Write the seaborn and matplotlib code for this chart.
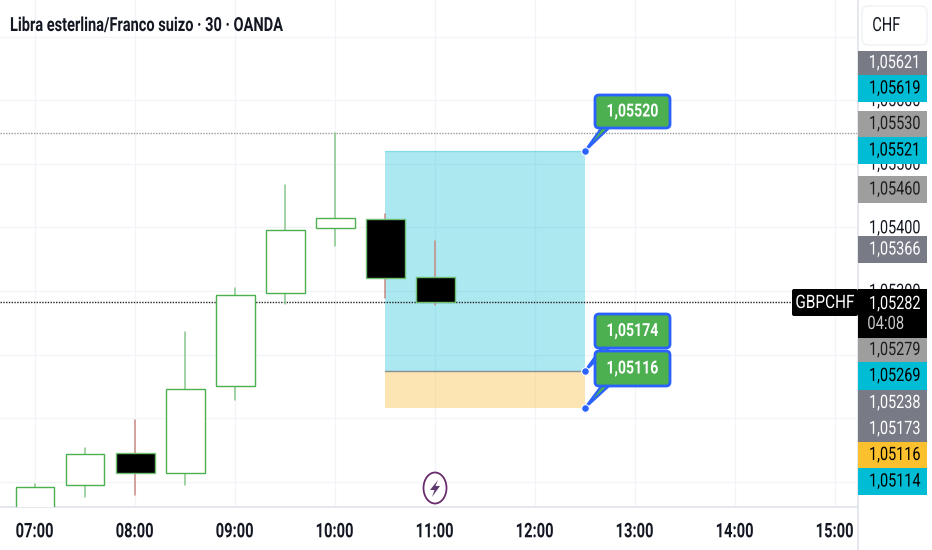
import pandas as pd
import seaborn as sns
import matplotlib
matplotlib.use('Agg')
import matplotlib.pyplot as plt
from matplotlib.patches import Ellipse, FancyBboxPatch, Polygon, Rectangle
from matplotlib.patheffects import AbstractPathEffect
from matplotlib.transforms import Affine2D

# candles, time in hours
times = [7.0, 7.5, 8.0, 8.5, 9.0, 9.5, 10.0, 10.5, 11.0]
opens = [1.04950, 1.04995, 1.05045, 1.05014, 1.05150, 1.05297, 1.05399, 1.05413, 1.05322]
closes = [1.04992, 1.05044, 1.05014, 1.05146, 1.05294, 1.05396, 1.05414, 1.05320, 1.05283]
highs = [1.04996, 1.05053, 1.05097, 1.05235, 1.05305, 1.05467, 1.05548, 1.05421, 1.05378]
lows = [1.04950, 1.04976, 1.04979, 1.04995, 1.05128, 1.05279, 1.05371, 1.05289, 1.05278]

hour_ticks = [7, 8, 9, 10, 11, 12, 13, 14, 15]
hour_labels = ['07:00', '08:00', '09:00', '10:00', '11:00', '12:00', '13:00', '14:00', '15:00']
price_ticks = [1.05000, 1.05100, 1.05200, 1.05300, 1.05400, 1.05500, 1.05600, 1.05700]
# the others sit fully behind the pills in the screenshot
visible_price_labels = [1.05300, 1.05400, 1.05500, 1.05600]

# position tool
zone_start, zone_end = 10.5, 12.5
target_price, entry_price, stop_price = 1.05520, 1.05174, 1.05116
last_price = 1.05282
session_high = 1.05548

# price scale pills: text, top px, bottom px, fill, text colour
pill_texts = ['1,05621', '1,05619', '1,05530', '1,05521', '1,05460', '1,05366',
              '1,05279', '1,05269', '1,05238', '1,05173', '1,05116', '1,05114']
pill_tops = [51, 75, 111, 137, 176, 236, 338, 362, 390, 416, 442, 468]
pill_bottoms = [75, 102, 137, 164, 203, 263, 362, 390, 416, 442, 468, 495]
pill_fills = ['#787B86', '#00BCD4', '#9E9E9E', '#00BCD4', '#9E9E9E', '#787B86',
              '#9E9E9E', '#00BCD4', '#787B86', '#787B86', '#FBC02D', '#00BCD4']
pill_inks = ['white', 'black', '#1c1c1c', 'black', '#1c1c1c', 'white',
             '#1c1c1c', 'black', 'white', 'white', 'black', 'black']

W, H = 932, 550
GRID = '#F3F4F9'
LINE = '#E0E3EB'
GREEN = '#4CAF50'
BLUE = '#2962FF'


class Squeeze(AbstractPathEffect):
    # the screenshot is squashed sideways, so the glyphs are narrowed around the text centre
    def __init__(self, sx, center=True):
        super().__init__()
        self.sx = sx
        self.center = center

    def draw_path(self, renderer, gc, tpath, affine, rgbFace=None):
        shift = 0
        if self.center:
            shift = affine.transform_path(tpath).get_extents().width * (1 - self.sx) / 2
        new = Affine2D().scale(self.sx, 1) + affine + Affine2D().translate(shift, 0)
        renderer.draw_path(gc, tpath, new, rgbFace)


def price_text(p):
    return ('%.5f' % p).replace('.', ',')


sns.set_theme(style='white')
plt.rcParams['font.family'] = ['Roboto', 'DejaVu Sans']

fig = plt.figure(figsize=(W / 100, H / 100), dpi=100, facecolor='white')
ax = fig.add_axes([0, 43 / H, 858 / W, 507 / H])
ax.set_xlim(6.65, 15.23)
ax.set_ylim(1.054 - 279.7 / 63600, 1.054 + 227.3 / 63600)
ax.set_axisbelow(True)
ax.grid(True, color=GRID, lw=0.9)

wicks = pd.DataFrame({
    'time': times + times,
    'price': highs + lows,
    'candle': list(range(len(times))) * 2,
    'kind': ['up' if c >= o else 'down' for o, c in zip(opens, closes)] * 2,
})
sns.lineplot(data=wicks, x='time', y='price', units='candle', estimator=None, hue='kind',
             palette={'up': '#86C78B', 'down': '#C98A84'}, lw=1.1, legend=False, ax=ax, zorder=3)

ax.fill_between([zone_start, zone_end], entry_price, target_price, color='#00BCD4', alpha=0.33, lw=0, zorder=1)
ax.fill_between([zone_start, zone_end], stop_price, entry_price, color='#FAC348', alpha=0.42, lw=0, zorder=1)
ax.plot([zone_start, zone_end], [entry_price, entry_price], color='#8A8F94', lw=1, zorder=2)
ax.plot([zone_start, zone_end], [target_price, target_price], color='#00BCD4', alpha=0.25, lw=1, zorder=2)

for t, o, c in zip(times, opens, closes):
    ax.bar(t, abs(c - o), bottom=min(o, c), width=0.39, color='white' if c >= o else 'black',
           edgecolor=GREEN if c >= o else '#6FBF73', lw=1.0, zorder=4)

ax.axhline(session_high, color='#9A9A9A', lw=1, ls=(0, (1, 1)), zorder=2)
ax.axhline(last_price, color='#222222', lw=1, ls=(0, (1, 1)), zorder=2)

ax.set_xticks(hour_ticks, hour_labels)
ax.set_yticks(price_ticks, [''] * len(price_ticks))
ax.tick_params(axis='x', length=0, pad=11, labelsize=14.5, labelcolor='#131722')
ax.tick_params(axis='y', length=0)
for tick_label in ax.get_xticklabels():
    tick_label.set_fontweight('bold')
    tick_label.set_path_effects([Squeeze(0.73)])
ax.set_xlabel('')
ax.set_ylabel('')
for side in ['top', 'left']:
    ax.spines[side].set_visible(False)
for side in ['right', 'bottom']:
    ax.spines[side].set_color(LINE)
    ax.spines[side].set_linewidth(1.2)

# overlay in pixel coordinates for the screen furniture
ov = fig.add_axes([0, 0, 1, 1], facecolor='none')
ov.set_xlim(0, W)
ov.set_ylim(H, 0)
ov.axis('off')

fig.canvas.draw()


def to_px(x, price):
    px = ax.transData.transform((x, price))
    return px[0], H - px[1]


def label(x, y, txt, size, color, sx=0.78, weight='normal', zorder=3):
    t = ov.text(x, y, txt, fontsize=size, color=color, fontweight=weight, ha='center', va='center', zorder=zorder)
    t.set_path_effects([Squeeze(sx)])
    return t


ov.plot([858, 858], [507, 550], color=LINE, lw=1.2)
title = ov.text(10, 26, 'Libra esterlina/Franco suizo · 30 · OANDA', fontsize=14, fontweight='bold',
                color='#131722', va='center', ha='left')
title.set_path_effects([Squeeze(0.75, center=False)])

ov.add_patch(FancyBboxPatch((866, 10), 57, 31, boxstyle='round,pad=4,rounding_size=6', fc='white',
                            ec='#F0F1F5', lw=1))
label(886.5, 26, 'CHF', 14, '#131722', sx=0.75)

for p in visible_price_labels:
    label(895, to_px(hour_ticks[0], p)[1] + 1, price_text(p), 13.3, '#131722', zorder=1)

for txt, top, bottom, fill, ink in zip(pill_texts, pill_tops, pill_bottoms, pill_fills, pill_inks):
    ov.add_patch(Rectangle((858, top), 69, bottom - top, fc=fill, ec='none', zorder=2))
    label(895, (top + bottom) / 2, txt, 13.3, ink)

ov.add_patch(Rectangle((858, 289), 69, 49, fc='black', ec='none', zorder=2))
ov.add_patch(FancyBboxPatch((794, 291), 62, 23, boxstyle='round,pad=2,rounding_size=2', fc='black', ec='none',
                            zorder=2))
label(825, 303, 'GBPCHF', 13.3, 'white', sx=0.83)
label(895, 304, price_text(last_price), 13.3, 'white')
label(886, 324, '04:08', 13.3, '#C8C8C8', sx=0.8)


def callout(price, top, bottom):
    dot_x, dot_y = to_px(zone_end, price)
    tail = Polygon([(602, bottom - 1), (610, bottom - 1), (dot_x, dot_y)], closed=True, fc=GREEN, ec=BLUE,
                   lw=1.6, zorder=5, joinstyle='miter')
    ov.add_patch(tail)
    ov.add_patch(FancyBboxPatch((598, top + 3), 69, bottom - top - 6, boxstyle='round,pad=3,rounding_size=4',
                                fc=GREEN, ec=BLUE, lw=2, zorder=6))
    ov.plot([dot_x], [dot_y], 'o', ms=5.5, color=BLUE, mec='white', mew=0.8, zorder=7)
    label(632.5, (top + bottom) / 2, price_text(price), 13, 'white', weight='bold', zorder=8)


callout(target_price, 95, 128)
callout(entry_price, 314, 348)
callout(stop_price, 351, 386)

ov.add_patch(Ellipse((435, 488), 23, 31, fc='white', ec='#6B2C6E', lw=1.3))
ov.add_patch(Polygon([(438, 480), (430, 490), (434.5, 490), (432, 497), (440, 486), (435.5, 486)], closed=True,
                     fc='#5E3A70', ec='none'))

fig.savefig('out.png', dpi=100)
